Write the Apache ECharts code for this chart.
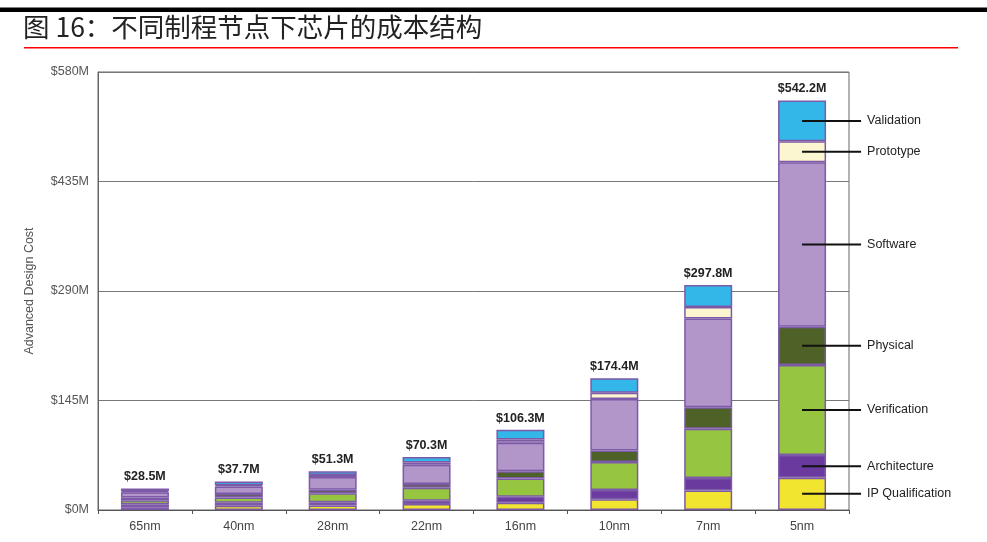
<!DOCTYPE html>
<html><head><meta charset="utf-8">
<script src="https://cdn.jsdelivr.net/npm/echarts@6/dist/echarts.min.js"></script>
<style>html,body{margin:0;padding:0;background:#fff}#c{width:987px;height:542px}</style>
</head><body><div id="c"></div>
<script>
var categories = ['65nm','40nm','28nm','22nm','16nm','10nm','7nm','5nm'];
var totals = ['28.5','37.7','51.3','70.3','106.3','174.4','297.8','542.2'];
var ipQualification = [3.5, 5.7, 6, 7.8, 9.7, 14.2, 25.8, 42.8];
var architecture    = [4, 4, 4.3, 4.5, 7.9, 12.4, 16.5, 30.1];
var verification    = [5.5, 7, 12, 17, 24.2, 37, 65.2, 119.2];
var physical        = [3.5, 4.5, 4.5, 5, 9.6, 15.3, 28.7, 50.7];
var software        = [7, 10, 17, 25.5, 37.5, 68, 117.5, 217.7];
var prototype       = [1.5, 1.5, 2.5, 3, 4.4, 8.5, 15, 27.8];
var validation      = [3.5, 5, 5, 7.5, 13, 19, 29.1, 53.9];
var yTicks = [0, 145, 290, 435, 580];

var FONT = 'Liberation Sans, Arial';
var segs = [
  ['IP Qualification', ipQualification, '#f1e52f'],
  ['Architecture', architecture, '#6b3a9e'],
  ['Verification', verification, '#96c640'],
  ['Physical', physical, '#4e6127'],
  ['Software', software, '#b295c9'],
  ['Prototype', prototype, '#fcf6d0'],
  ['Validation', validation, '#33b6e8']
];
var last = categories.length - 1;
var series = segs.map(function (s) {
  return {
    name: s[0], type: 'bar', stack: 'cost', barWidth: 48,
    itemStyle: { color: s[2], borderColor: '#7d5aa8', borderWidth: 1.5 },
    data: s[1].map(function (v, i) {
      if (i !== last) return v;
      return {
        value: v,
        label: {
          show: true, position: ['50%', '50%'], align: 'left', verticalAlign: 'middle',
          formatter: '{l| }{t|' + s[0] + '}',
          rich: {
            l: { width: 59, height: 2, backgroundColor: '#111', lineHeight: 2 },
            t: { padding: [0, 0, 0, 6], fontSize: 12.5, color: '#222', fontFamily: FONT }
          }
        }
      };
    })
  };
});
series.push({
  name: 'Total', type: 'bar', stack: 'cost', barWidth: 48,
  itemStyle: { color: 'transparent', borderWidth: 0 },
  data: totals.map(function () { return 0; }),
  label: {
    show: true, position: 'top', distance: 5,
    formatter: function (p) { return '$' + totals[p.dataIndex] + 'M'; },
    fontSize: 12.5, fontWeight: 'bold', color: '#222', fontFamily: FONT
  }
});

var chart = echarts.init(document.getElementById('c'));
chart.setOption({
  animation: false,
  graphic: [
    { type: 'rect', shape: { x: 0, y: 7.5, width: 987, height: 4.5 }, style: { fill: '#000' } },
    { type: 'text', left: 23, top: 14, style: { text: '图 16：不同制程节点下芯片的成本结构', font: '26.5px "Noto Sans CJK SC"', fill: '#222' } },
    { type: 'rect', shape: { x: 24, y: 47, width: 934, height: 1.5 }, style: { fill: '#f00' } }
  ],
  grid: { left: 98, right: 138, top: 72, bottom: 32, show: true, borderColor: '#666', borderWidth: 1 },
  xAxis: {
    type: 'category', data: categories,
    axisLine: { lineStyle: { color: '#555' } },
    axisTick: { show: true, length: 4, lineStyle: { color: '#555' } },
    axisLabel: { color: '#444', fontSize: 12.5, margin: 10, fontFamily: FONT }
  },
  yAxis: {
    type: 'value', min: 0, max: 580, interval: 145,
    name: 'Advanced Design Cost', nameLocation: 'middle', nameGap: 62, nameRotate: 90,
    nameTextStyle: { color: '#555', fontSize: 12.5, fontFamily: FONT },
    axisLine: { show: true, lineStyle: { color: '#666' } },
    axisTick: { show: false },
    axisLabel: { color: '#555', fontSize: 12.5, margin: 9, fontFamily: FONT,
      formatter: function (v) { return yTicks.indexOf(v) >= 0 ? '$' + v + 'M' : ''; } },
    splitLine: { lineStyle: { color: '#777', width: 1 } }
  },
  series: series
});
</script></body></html>
